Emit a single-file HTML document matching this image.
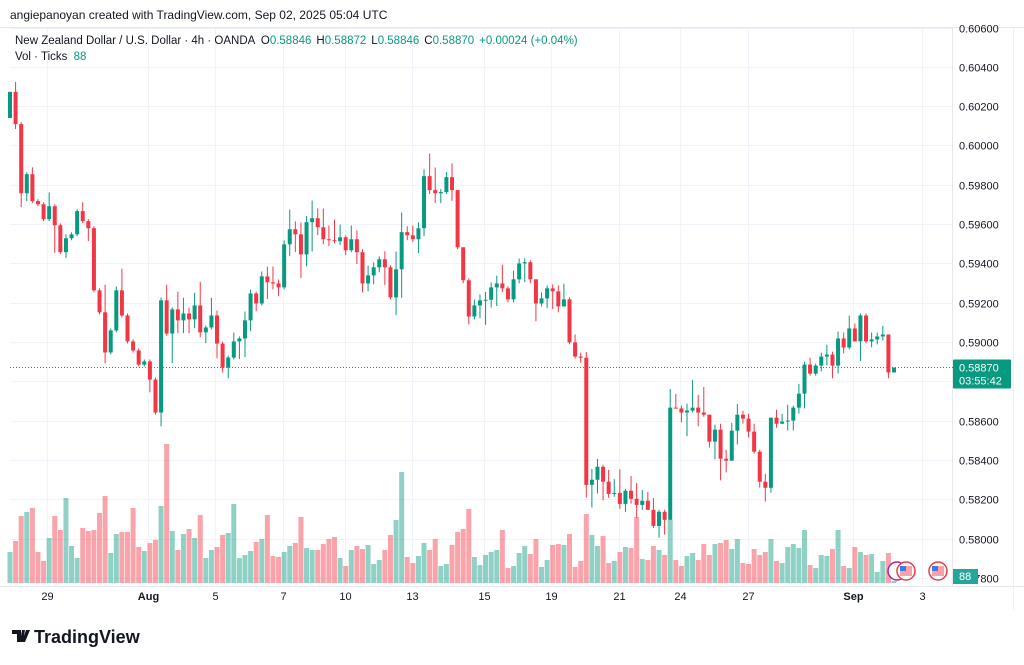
<!DOCTYPE html>
<html><head><meta charset="utf-8"><style>
html,body{margin:0;padding:0;background:#fff;width:1024px;height:665px;overflow:hidden;font-family:"Liberation Sans",sans-serif;}
svg{display:block}
</style></head><body>
<svg id="chart" width="1024" height="665" xmlns="http://www.w3.org/2000/svg" font-family="Liberation Sans, sans-serif">
<text x="10" y="19" font-size="12" fill="#131722">angiepanoyan created with TradingView.com, Sep 02, 2025 05:04 UTC</text>
<line x1="0" y1="27.5" x2="1024" y2="27.5" stroke="#e6e8ec"/>
<g id="grid"></g>
<g id="vols"></g>
<g id="candles"></g>
<g id="axes"></g>
<text x="15" y="44" font-size="11.5" fill="#131722">New Zealand Dollar / U.S. Dollar · 4h · OANDA <tspan dx="3">O</tspan><tspan fill="#089981">0.58846</tspan><tspan dx="5">H</tspan><tspan fill="#089981">0.58872</tspan><tspan dx="5">L</tspan><tspan fill="#089981">0.58846</tspan><tspan dx="5">C</tspan><tspan fill="#089981">0.58870</tspan><tspan dx="5" fill="#089981">+0.00024 (+0.04%)</tspan></text>
<text x="15" y="60" font-size="11.5" fill="#131722">Vol · Ticks <tspan dx="3" fill="#089981">88</tspan></text>
<g>
<circle cx="897" cy="571" r="9" fill="#fff" stroke="#9c27b0" stroke-width="1.5"/>
<circle cx="906" cy="571" r="9" fill="#fff" stroke="#f23645" stroke-width="1.5"/>
<rect x="900" y="566" width="12" height="10" fill="#f7a1a8"/><rect x="900" y="566" width="6" height="5" fill="#3d7be0"/>
<circle cx="938" cy="571" r="9" fill="#fff" stroke="#f23645" stroke-width="1.5"/>
<rect x="932" y="566" width="12" height="10" fill="#f7a1a8"/><rect x="932" y="566" width="6" height="5" fill="#3d7be0"/>
</g>
<g>
<path d="M12 630h9v12h-4v-8h-5z M22 630h3l-2 12h-3z M26 630h4l-5 12h-3z" fill="#131722"/>
<text x="34" y="643" font-size="18" font-weight="bold" fill="#131722">TradingView</text>
</g>
</svg>
<script>
const closes=[0.60273,0.60109,0.59757,0.59854,0.59717,0.59701,0.59625,0.59691,0.59594,0.59457,
0.59528,0.59548,0.59666,0.59615,0.59579,0.59263,0.59151,0.58947,0.59059,0.59263,
0.59135,0.59003,0.58957,0.58885,0.58901,0.58809,0.58641,0.59212,0.59043,0.59166,
0.59110,0.59145,0.59115,0.59186,0.59049,0.59074,0.59135,0.58992,0.58870,0.58921,
0.59003,0.59018,0.59110,0.59247,0.59196,0.59334,0.59304,0.59298,0.59278,0.59497,
0.59574,0.59548,0.59446,0.59610,0.59630,0.59584,0.59523,0.59518,0.59513,0.59533,
0.59467,0.59523,0.59457,0.59298,0.59339,0.59380,0.59421,0.59380,0.59227,0.59370,
0.59559,0.59543,0.59523,0.59579,0.59844,0.59773,0.59757,0.59763,0.59839,0.59773,
0.59482,0.59314,0.59130,0.59186,0.59212,0.59215,0.59278,0.59298,0.59273,0.59217,
0.59319,0.59400,0.59406,0.59319,0.59196,0.59222,0.59273,0.59258,0.59181,0.59217,
0.58998,0.58926,0.58920,0.58273,0.58299,0.58365,0.58289,0.58227,0.58232,0.58176,
0.58243,0.58202,0.58171,0.58192,0.58146,0.58064,0.58136,0.58095,0.58666,0.58662,
0.58641,0.58651,0.58666,0.58641,0.58630,0.58493,0.58554,0.58406,0.58396,0.58549,
0.58630,0.58610,0.58544,0.58442,0.58289,0.58258,0.58615,0.58584,0.58595,0.58600,
0.58666,0.58737,0.58885,0.58839,0.58880,0.58926,0.58936,0.58880,0.59018,0.58972,
0.59069,0.59003,0.59135,0.59003,0.59013,0.59028,0.59038,0.58845,0.58870];
const firstOpen=0.60140;
const upperWickPips=[0,5,1,1,3.5,1,1,7,1,1, 2,1,1,4.5,1,1,1,14,1,2, 11,1,1,1,1,1,1,1.5,8,1, 9,8,3,6.5,12,1,9,2.5,1,1,
4.5,1,4.5,2,1,2.5,5,8,2,2, 10,4,6,3,9,5,9.5,7,10.5,6.5, 1,7,4.5,1.5,5,2.5,1.5,4,1,9, 10,3,5,3,3.5,11.5,11.5,1.5,2.5,7,
0,0,1,3,3,4,2.5,4,9.5,1, 4.5,2.5,2,1,0,3,1.5,2,3,8, 1,4,2,3,5.5,4,1,6,7,12, 1,7.5,8,5.5,4.5,6,1,1,9.5,7,
1.5,3.5,14,6.5,13,0,2.5,3,4.5,4, 5.5,2,2.5,4,1,4,0,4,4,8, 1,5,1.5,3.5,1,2,5,1.5,3.5,3, 6.5,2.5,1,1,3.5,2,4.5,0,0];
const lowerWickPips=[0,2.5,7,4,1,1,1,1,14,1, 3,1,1,1,6.5,1,1,5.5,1,1, 1,1,1,1,1,6.5,1,7,1,15, 6.5,6.5,7,4.5,2.5,5.5,1,7.5,2.5,5.5,
1,9,9.5,5.5,4,1,8.5,3,4.5,1, 6,9,12,6,15,4,2.5,3,1,2, 2.5,1,6,4.5,4,4.5,2.5,9,1,9, 14.5,2.5,1.5,7,4,2,5,5,1,5.5,
1,1.5,4,1.5,6.5,12.5,4,9.5,2,1.5, 1.5,2,9.5,2,9,1.5,5,9,3,0, 1,1,2.5,6.5,11.5,7,9.5,2,1.5,2.5, 4,2.5,6.5,2.5,0,1,6,7.5,0,0,
5,12,1,7,1,3,9,11,6,0, 7,2.5,3,1,3,7,2.5,2,0,4.5, 5,3,7.5,1,1,3,4.5,6.5,4,3, 1,0,10,1,3,2.5,2,3,0];
const volumes=[31,42,67,71,75,31,22,45,67,53, 85,37,25,55,52,53,70,87,30,49, 51,51,75,36,32,40,43,77,139,52,
33,49,54,45,68,25,33,36,48,50, 79,25,28,32,41,44,68,27,26,31, 37,40,66,35,33,33,39,44,46,25,
17,33,37,34,38,19,23,33,48,63, 111,26,20,27,40,33,44,17,19,38, 51,54,74,26,18,28,31,33,53,15,
17,30,37,29,44,16,23,38,39,38, 49,16,22,69,48,37,47,20,22,31, 36,35,66,24,23,37,33,28,63,23,
17,27,30,23,39,28,39,40,43,34, 44,20,19,34,28,31,44,22,20,36, 39,35,53,18,15,28,27,34,53,17,
15,36,31,28,29,11,22,30,2];
const priceTicks=[0.606,0.604,0.602,0.600,0.598,0.596,0.594,0.592,0.590,0.588,0.586,0.584,0.582,0.580,0.578];
const timeLabels=["29","Aug","5","7","10","13","15","19","21","24","27","Sep","3"];
const timeLabelIdx=[6.6,24.7,36.6,48.8,59.9,71.9,84.7,96.7,108.9,119.7,131.9,150.7,163];
const lastPrice=0.58870;

const NS="http://www.w3.org/2000/svg";
const G='#089981',R='#f23645';
function xs(i){return 10+i*5.595;}
function ys(p){return 342+(0.59-p)/0.002*39.3;}
function vy(v){return 583-v;}
function mk(tag,attrs,parent){const e=document.createElementNS(NS,tag);for(const k in attrs)e.setAttribute(k,attrs[k]);parent.appendChild(e);return e;}
const grid=document.getElementById('grid'),cg=document.getElementById('candles'),vg=document.getElementById('vols'),ax=document.getElementById('axes');
priceTicks.forEach(p=>{const y=Math.round(ys(p))+0.5;
 const l=mk('line',{x1:10,x2:952,y1:y,y2:y,stroke:'#f0f3fa'},grid);
 
 
 const t=mk('text',{x:959,y:y+4,'font-size':11,fill:'#131722'},ax);t.textContent=p.toFixed(5);
 
 
});
timeLabels.forEach((s,k)=>{const x=Math.round(xs(timeLabelIdx[k]))+0.5;
 const l=mk('line',{x1:x,x2:x,y1:28,y2:585,stroke:'#f0f3fa'},grid);
 
 
 const t=mk('text',{x:x,y:600,'font-size':11,fill:'#131722','text-anchor':'middle','font-weight':(s=='Aug'||s=='Sep')?'bold':'normal'},ax);t.textContent=s;
 
 
});
mk('line',{x1:952.5,x2:952.5,y1:28,y2:586,stroke:'#e6e8ec'},grid);
mk('line',{x1:0,x2:1024,y1:586.5,y2:586.5,stroke:'#e6e8ec'},grid);
mk('line',{x1:1013.5,x2:1013.5,y1:28,y2:610,stroke:'#eef0f3'},grid);
closes.forEach((c,i)=>{
 const o=i===0?firstOpen:closes[i-1];
 const up=c>=o;const col=up?G:R;const x=xs(i);
 const vb=mk('rect',{x:x-2.5,y:vy(volumes[i]),width:5,height:volumes[i],fill:col,'fill-opacity':0.45},vg);
 
 
 const hi=Math.max(o,c)+upperWickPips[i]*0.0001,lo=Math.min(o,c)-lowerWickPips[i]*0.0001;
 const w=mk('line',{x1:x,x2:x,y1:ys(hi),y2:ys(lo),stroke:col,'stroke-width':1},cg);
 
 
 const top=ys(Math.max(o,c)),bot=ys(Math.min(o,c));
 const b=mk('rect',{x:x-2,y:top,width:4,height:Math.max(1,bot-top),fill:col},cg);
 
 
});
const ly=ys(lastPrice);
const pl=mk('line',{x1:10,x2:953,y1:ly,y2:ly,stroke:G,'stroke-dasharray':'1 2'},ax);


const pb=mk('rect',{x:953,y:ly-8,width:58,height:29,fill:G,rx:1},ax);


const pt=mk('text',{x:959,y:ly+4,'font-size':11,fill:'#fff'},ax);pt.textContent=lastPrice.toFixed(5);
const ct=mk('text',{x:959,y:ly+17,'font-size':11,fill:'#fff'},ax);ct.textContent='03:55:42';


const vb2=mk('rect',{x:953,y:569,width:25,height:15,fill:'#26a69a'},ax);


const vt=mk('text',{x:959,y:580,'font-size':11,fill:'#fff'},ax);vt.textContent='88';
</script>
</body></html>
